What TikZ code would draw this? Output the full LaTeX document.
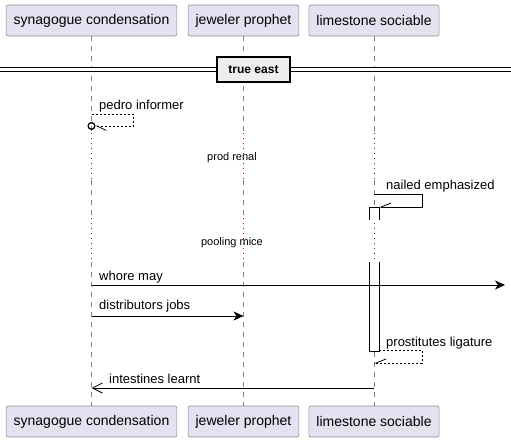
\documentclass[tikz,border=0pt]{standalone}
\usepackage{fontspec}
\setmainfont{Liberation Sans}
\usepackage{xcolor}
\usepackage{tikz}
\usetikzlibrary{arrows.meta}

\definecolor{partfill}{HTML}{E2E2F0}
\definecolor{partdraw}{HTML}{8C8C8C}
\definecolor{delaycol}{HTML}{A80036}
\definecolor{divfill}{HTML}{EEEEEE}

\begin{document}
\begin{tikzpicture}[x=1pt,y=-1pt,
        part/.style={draw=partdraw,fill=partfill,rounded corners=2pt,line width=0.6pt,
            minimum height=31pt,inner xsep=7.5pt,font=\fontsize{14}{16}\selectfont},
        life/.style={draw=gray,line width=0.5pt,dash pattern=on 5pt off 5pt},
        delayline/.style={draw=delaycol,line width=1pt,dash pattern=on 1pt off 4pt},
        msg/.style={line width=0.8pt},
        reply/.style={line width=0.8pt,dash pattern=on 2pt off 2pt},
        lbl/.style={inner sep=0pt,anchor=base west,font=\fontsize{13}{15}\selectfont},
        delaytext/.style={inner sep=0pt,anchor=base,font=\fontsize{11}{13}\selectfont},
        divbox/.style={draw,fill=divfill,line width=1.5pt,minimum width=73pt,minimum height=25pt,
            inner sep=0pt,font=\bfseries\fontsize{12}{14}\selectfont},
        divline/.style={double,double distance=3pt,line width=0.9pt}]
    \useasboundingbox (0,0) rectangle (511,442);
    \node[part] (syn) at (91.5,20.5) {synagogue condensation};
    \node[part] (jew) at (243.5,20.5) {jeweler prophet};
    \node[part] (lim) at (374,20.5) {limestone sociable};
    \node[part] (synb) at (91.5,421.5) {synagogue condensation};
    \node[part] (jewb) at (243.5,421.5) {jeweler prophet};
    \node[part] (limb) at (374,421.5) {limestone sociable};

    \foreach \t/\b in {syn/synb,jew/jewb,lim/limb}{
        \draw[life] (\t.south) -- (\t |- 0,133);
        \draw[delayline] (\t |- 0,133) -- (\t |- 0,180);
        \draw[life] (\t |- 0,180) -- (\t |- 0,218);
        \draw[delayline] (\t |- 0,218) -- (\t |- 0,262);
        \draw[life] (\t |- 0,262) -- (\b.north);
    }

    % separator
    \coordinate (dl) at (0,69.5);
    \coordinate (dr) at (511,69.5);
    \node[divbox] (div) at (253.5,69.5) {true east};
    \draw[divline] (dl) -- (div.west);
    \draw[divline] (div.east) -- (dr);

    % activation
    \path[fill=white,draw,line width=0.8pt] (369,220) -- (369,207) -- (379,207) -- (379,220);
    \path[fill=white,draw,line width=0.8pt] (369,262) -- (369,351) -- (379,351) -- (379,262);

    % messages
    \draw[reply,-{Straight Barb[left,length=9pt,width=9pt] Circle[open,length=8pt,width=8pt,line width=1.3pt]}]
        (syn |- 0,114) -- (133,114) -- (133,126) -- ([xshift=-4pt]syn |- 0,126);
    \node[lbl] (m1) at (99,109) {pedro informer};

    \node[delaytext] (d1) at (232,160) {prod renal};

    \draw[msg,-{Straight Barb[right,length=10pt,width=8pt]}]
        (lim |- 0,194) -- (422,194) -- (422,207) -- (379,207);
    \node[lbl] (m2) at (386,189) {nailed emphasized};

    \node[delaytext] (d2) at (232,245) {pooling mice};

    \coordinate (out) at (505,285);
    \draw[msg,-{Stealth[length=10pt,width=9pt,inset=3pt]}] (syn |- 0,285) -- (out);
    \node[lbl] (m3) at (99,280) {whore may};

    \draw[msg,-{Stealth[length=10pt,width=9pt,inset=3pt]}] (syn |- 0,316) -- (jew |- 0,316);
    \node[lbl] (m4) at (99,309) {distributors jobs};

    \draw[reply,-{Straight Barb[right,length=10pt,width=8pt]}]
        (379,350) -- (422,350) -- (422,363) -- (lim |- 0,363);
    \node[lbl] (m5) at (386,346) {prostitutes ligature};

    \draw[msg,-{Straight Barb[length=10pt,width=10pt]}] (lim |- 0,388) -- (syn |- 0,388);
    \node[lbl] (m6) at (109,383) {intestines learnt};
\end{tikzpicture}
\end{document}
